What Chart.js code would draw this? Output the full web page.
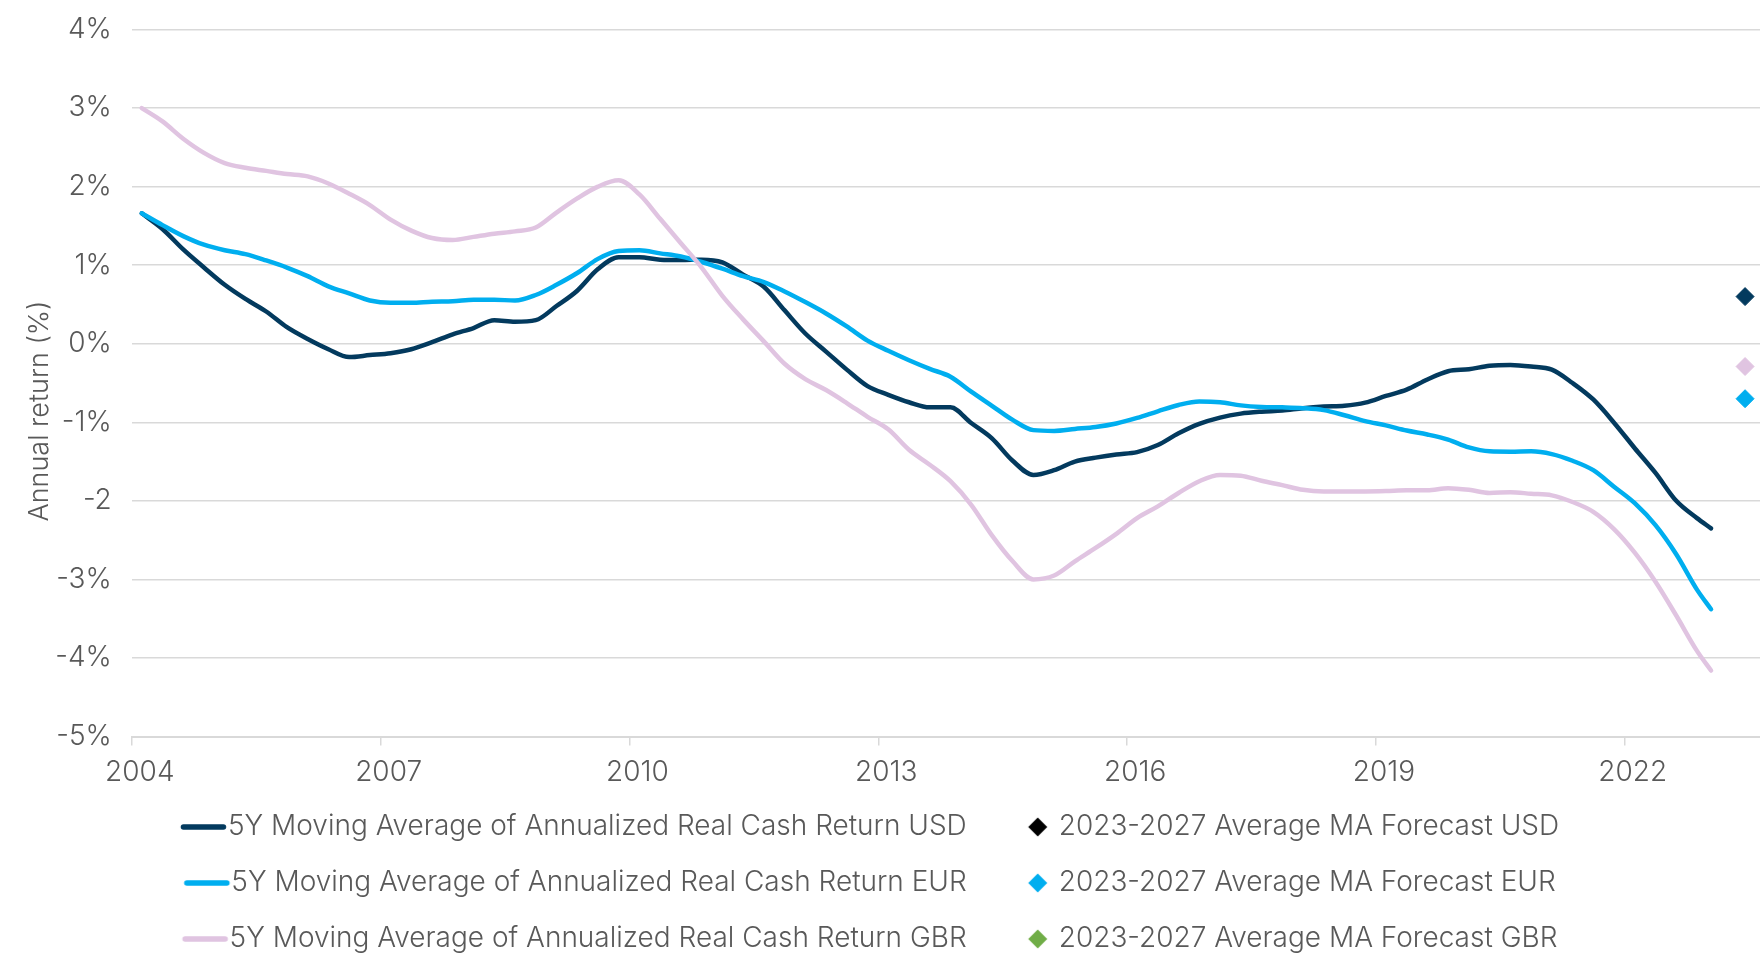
<!DOCTYPE html>
<html>
<head>
<meta charset="utf-8">
<script src="https://cdn.jsdelivr.net/npm/chart.js@4.4.1/dist/chart.umd.min.js"></script>
<style>
html,body{margin:0;padding:0;background:#ffffff;}
#wrap{width:1760px;height:959px;position:relative;}
</style>
</head>
<body>
<div id="wrap"><canvas id="c" width="1760" height="959"></canvas></div>
<script>
// ---- data ----
const dates = [
  2004.12,2004.37,2004.62,2004.87,
  2005.12,2005.37,2005.62,2005.87,
  2006.12,2006.37,2006.62,2006.87,
  2007.12,2007.37,2007.62,2007.87,
  2008.12,2008.37,2008.62,2008.87,
  2009.12,2009.37,2009.62,2009.87,
  2010.12,2010.37,2010.62,2010.87,
  2011.12,2011.37,2011.62,2011.87,
  2012.12,2012.37,2012.62,2012.87,
  2013.12,2013.37,2013.62,2013.87,
  2014.12,2014.37,2014.62,2014.87,
  2015.12,2015.37,2015.62,2015.87,
  2016.12,2016.37,2016.62,2016.87,
  2017.12,2017.37,2017.62,2017.87,
  2018.12,2018.37,2018.62,2018.87,
  2019.12,2019.37,2019.62,2019.87,
  2020.12,2020.37,2020.62,2020.87,
  2021.12,2021.37,2021.62,2021.87,
  2022.12,2022.37,2022.62,2022.87,
  2023.04
];
const usd = [
  1.66,1.46,1.20,0.97,
  0.75,0.57,0.41,0.21,
  0.06,-0.07,-0.17,-0.145,
  -0.12,-0.07,0.02,0.12,
  0.20,0.30,0.28,0.30,
  0.48,0.675,0.95,1.10,
  1.10,1.07,1.065,1.07,
  1.035,0.88,0.725,0.425,
  0.13,-0.10,-0.33,-0.54,
  -0.65,-0.745,-0.81,-0.81,
  -1.01,-1.205,-1.49,-1.67,
  -1.61,-1.50,-1.45,-1.41,
  -1.38,-1.29,-1.14,-1.02,
  -0.94,-0.89,-0.865,-0.85,
  -0.82,-0.80,-0.79,-0.75,
  -0.665,-0.585,-0.455,-0.35,
  -0.325,-0.28,-0.27,-0.29,
  -0.33,-0.50,-0.71,-1.005,
  -1.33,-1.645,-2.00,-2.22,
  -2.35
];
const eur = [
  1.66,1.51,1.37,1.26,
  1.19,1.14,1.06,0.97,
  0.86,0.73,0.64,0.55,
  0.52,0.52,0.535,0.54,
  0.56,0.56,0.55,0.62,
  0.75,0.90,1.08,1.18,
  1.19,1.15,1.11,1.04,
  0.955,0.86,0.785,0.665,
  0.53,0.385,0.22,0.04,
  -0.09,-0.21,-0.32,-0.42,
  -0.61,-0.79,-0.97,-1.10,
  -1.11,-1.085,-1.06,-1.015,
  -0.945,-0.86,-0.78,-0.735,
  -0.745,-0.785,-0.805,-0.81,
  -0.82,-0.845,-0.91,-0.985,
  -1.04,-1.105,-1.155,-1.22,
  -1.32,-1.37,-1.375,-1.37,
  -1.405,-1.49,-1.61,-1.82,
  -2.03,-2.31,-2.68,-3.13,
  -3.38
];
const gbr = [
  3.00,2.83,2.61,2.43,
  2.30,2.24,2.20,2.16,
  2.13,2.04,1.91,1.765,
  1.58,1.44,1.345,1.32,
  1.36,1.40,1.43,1.48,
  1.67,1.85,2.00,2.08,
  1.90,1.59,1.28,0.97,
  0.61,0.31,0.03,-0.255,
  -0.45,-0.59,-0.755,-0.93,
  -1.09,-1.35,-1.54,-1.75,
  -2.05,-2.44,-2.77,-3.00,
  -2.95,-2.77,-2.60,-2.42,
  -2.22,-2.07,-1.90,-1.75,
  -1.67,-1.68,-1.745,-1.80,
  -1.86,-1.88,-1.88,-1.88,
  -1.875,-1.865,-1.865,-1.84,
  -1.86,-1.90,-1.89,-1.91,
  -1.93,-2.015,-2.14,-2.36,
  -2.66,-3.03,-3.46,-3.91,
  -4.16
];
const forecastDate = [2023.45];
const forecastUSD = [0.60];
const forecastEUR = [-0.70];
const forecastGBR = [-0.29];

const seriesLabels = [
  '5Y Moving Average of Annualized Real Cash Return USD',
  '5Y Moving Average of Annualized Real Cash Return EUR',
  '5Y Moving Average of Annualized Real Cash Return GBR'
];
const forecastLabels = [
  '2023-2027 Average MA Forecast USD',
  '2023-2027 Average MA Forecast EUR',
  '2023-2027 Average MA Forecast GBR'
];
const xTickYears = [2004, 2007, 2010, 2013, 2016, 2019, 2022];
const xTickLabels = ['2004', '2007', '2010', '2013', '2016', '2019', '2022'];
const yTickValues = [4, 3, 2, 1, 0, -1, -2, -3, -4, -5];
const yTickLabels = ['4%', '3%', '2%', '1%', '0%', '-1%', '-2', '-3%', '-4%', '-5%'];
const yAxisTitle = 'Annual return (%)';

// ---- styling ----
const NAVY = '#033A5E';
const BLUE = '#00AEEF';
const PINK = '#E0C4E1';
const TEXT = '#595959';
const GRID = '#D9D9D9';
const FONT = 'Inter, Lato, "Noto Sans", sans-serif';
const WEIGHT = 300;

function toPoints(xs, ys) { return xs.map((x, i) => ({x: x, y: ys[i]})); }

// legend swatches (custom point-style canvases)
function lineSwatch(color) {
  const c = document.createElement('canvas');
  c.width = 90; c.height = 10;
  const g = c.getContext('2d');
  g.strokeStyle = color; g.lineWidth = 5.5; g.lineCap = 'round';
  g.beginPath(); g.moveTo(39.5, 5); g.lineTo(79.5, 5); g.stroke();
  return c;
}
function diamondSwatch(color) {
  const c = document.createElement('canvas');
  c.width = 60; c.height = 20;
  const g = c.getContext('2d');
  g.fillStyle = color;
  g.beginPath(); g.moveTo(48, 0.5); g.lineTo(57.5, 10); g.lineTo(48, 19.5); g.lineTo(38.5, 10); g.closePath(); g.fill();
  return c;
}

const legendSpec = [
  {ds: 0, swatch: lineSwatch(NAVY)},
  {ds: 3, swatch: diamondSwatch('#000000')},
  {ds: 1, swatch: lineSwatch(BLUE)},
  {ds: 4, swatch: diamondSwatch(BLUE)},
  {ds: 2, swatch: lineSwatch(PINK)},
  {ds: 5, swatch: diamondSwatch('#70AD47')}
];

const yTitlePlugin = {
  id: 'yTitle',
  afterDraw(chart) {
    const ctx = chart.ctx;
    ctx.save();
    ctx.translate(40, 411);
    ctx.rotate(-Math.PI / 2);
    ctx.font = WEIGHT + ' 27px ' + FONT;
    ctx.fillStyle = TEXT;
    ctx.textAlign = 'center';
    ctx.textBaseline = 'middle';
    ctx.fillText(yAxisTitle, 0, 0);
    ctx.restore();
  }
};

function lineDs(label, xs, ys, color, order) {
  return {
    label: label, data: toPoints(xs, ys), borderColor: color, backgroundColor: color,
    borderWidth: 4.5, pointRadius: 0, pointHoverRadius: 0, fill: false,
    cubicInterpolationMode: 'monotone', borderCapStyle: 'round', borderJoinStyle: 'round', order: order
  };
}
function fcDs(label, xs, ys, color) {
  return {
    label: label, data: toPoints(xs, ys), showLine: false, pointStyle: 'rectRot',
    pointRadius: 9, pointHoverRadius: 9, pointBackgroundColor: color, pointBorderColor: color,
    pointBorderWidth: 1, borderColor: color, backgroundColor: color, order: 0
  };
}

Chart.defaults.font.family = FONT;
Chart.defaults.font.weight = WEIGHT;
Chart.defaults.color = TEXT;

new Chart(document.getElementById('c'), {
  type: 'line',
  data: {
    datasets: [
      lineDs(seriesLabels[0], dates, usd, NAVY, 3),
      lineDs(seriesLabels[1], dates, eur, BLUE, 2),
      lineDs(seriesLabels[2], dates, gbr, PINK, 1),
      fcDs(forecastLabels[0], forecastDate, forecastUSD, NAVY),
      fcDs(forecastLabels[1], forecastDate, forecastEUR, BLUE),
      fcDs(forecastLabels[2], forecastDate, forecastGBR, PINK)
    ]
  },
  options: {
    responsive: false,
    devicePixelRatio: 1,
    animation: false,
    layout: {autoPadding: false, padding: {top: 29.5, right: 0, bottom: -4, left: -37}},
    plugins: {
      tooltip: {enabled: false},
      legend: {
        position: 'bottom',
        align: 'center',
        labels: {
          usePointStyle: true,
          pointStyleWidth: 50,
          padding: 28,
          color: TEXT,
          font: {size: 28, family: FONT, weight: WEIGHT},
          generateLabels: (chart) => legendSpec.map(s => ({
            text: chart.data.datasets[s.ds].label,
            pointStyle: s.swatch,
            fillStyle: 'rgba(0,0,0,0)',
            strokeStyle: 'rgba(0,0,0,0)',
            lineWidth: 0,
            hidden: false,
            datasetIndex: s.ds,
            fontColor: TEXT
          }))
        }
      }
    },
    scales: {
      x: {
        type: 'linear',
        min: 2004,
        max: 2023.63,
        afterBuildTicks: (s) => { s.ticks = xTickYears.map(v => ({value: v})); },
        afterFit: (s) => { s.height = 48.5; },
        ticks: {
          callback: (v, i) => xTickLabels[i],
          font: {size: 28, family: FONT, weight: WEIGHT},
          color: TEXT, padding: 10, maxRotation: 0, autoSkip: false, labelOffset: 8
        },
        grid: {drawOnChartArea: false, drawTicks: true, tickLength: 9, color: GRID, lineWidth: 1.5},
        border: {display: true, color: GRID, width: 2}
      },
      y: {
        min: -5,
        max: 4,
        afterBuildTicks: (s) => { s.ticks = yTickValues.map(v => ({value: v})); },
        afterFit: (s) => { s.width = 168.8; },
        ticks: {
          callback: (v, i) => yTickLabels[i],
          font: {size: 28, family: FONT, weight: WEIGHT},
          color: TEXT, padding: 0, autoSkip: false
        },
        grid: {color: GRID, lineWidth: 1.5, drawTicks: true, tickLength: 20, tickColor: 'rgba(0,0,0,0)'},
        border: {display: false}
      }
    }
  },
  plugins: [yTitlePlugin]
});
</script>
</body>
</html>
